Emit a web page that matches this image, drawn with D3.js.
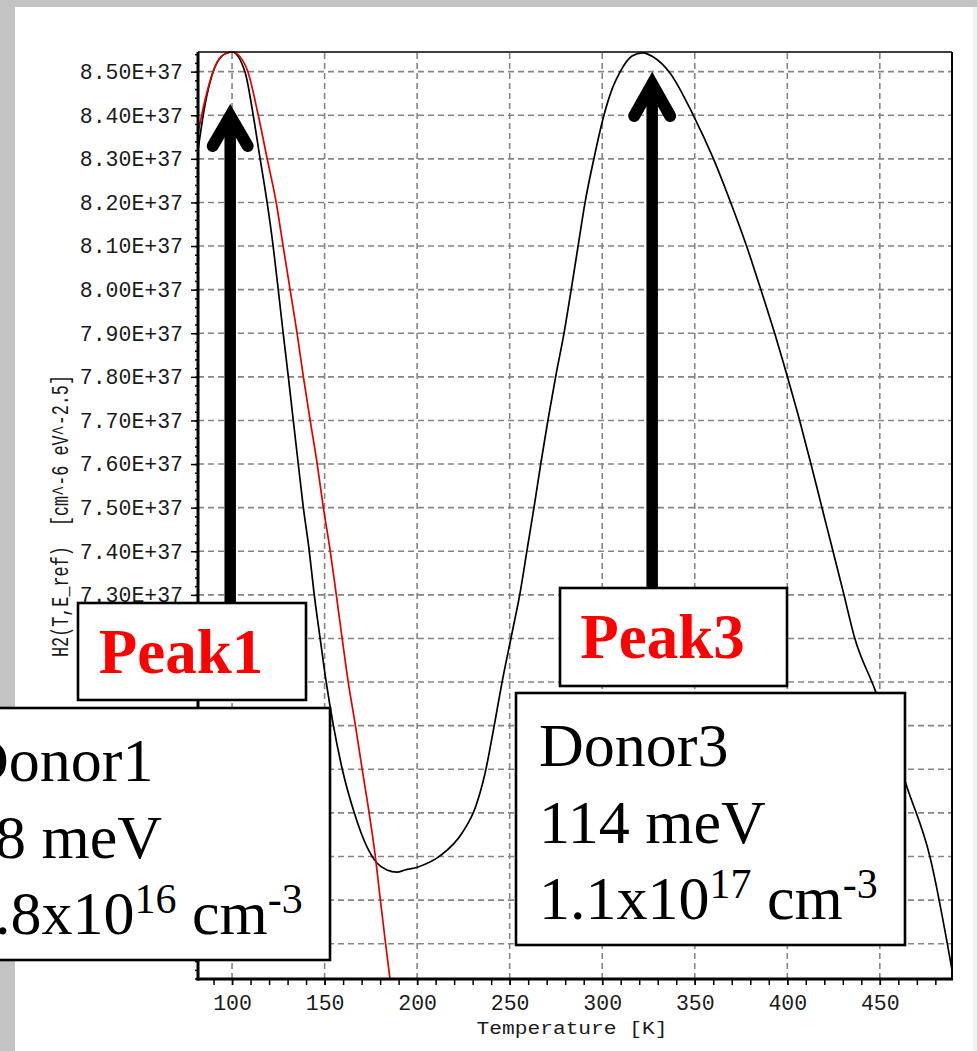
<!DOCTYPE html>
<html>
<head>
<meta charset="utf-8">
<script src="https://cdn.jsdelivr.net/npm/d3@7"></script>
<style>
  html, body { margin: 0; padding: 0; background: #fff; }
  svg { display: block; }
  text { white-space: pre; }
</style>
</head>
<body>
<svg id="chart" width="977" height="1051"></svg>
<script>
// Axis ranges: temperature in K, H2 function in cm^-6 eV^-2.5
const tempDomain = [81.6, 489.0];
const h2Domain = [6.419e37, 8.545e37];

const xTickValues = [100, 150, 200, 250, 300, 350, 400, 450];
const yTickValues = [6.5e37, 6.6e37, 6.7e37, 6.8e37, 6.9e37, 7.0e37, 7.1e37, 7.2e37, 7.3e37,
                     7.4e37, 7.5e37, 7.6e37, 7.7e37, 7.8e37, 7.9e37, 8.0e37, 8.1e37, 8.2e37,
                     8.3e37, 8.4e37, 8.5e37];
// labelled ticks (the lower ones sit behind the annotation boxes)
const yLabelledTicks = [7.3e37, 7.4e37, 7.5e37, 7.6e37, 7.7e37, 7.8e37, 7.9e37, 8.0e37, 8.1e37,
                        8.2e37, 8.3e37, 8.4e37, 8.5e37];

// Measured H2(T, E_ref) curve (black)
const measuredT = [81.6, 85.4, 89.2, 94.6, 100.0, 107.0, 111.4, 115.1, 118.9, 122.2, 124.9, 127.6,
  130.3, 133.0, 135.7, 138.4, 141.6, 144.3, 147.5, 150.8, 154.6, 159.4, 165.9, 172.9, 178.3, 183.7,
  189.1, 193.5, 200.5, 212.9, 224.3, 231.6, 236.7, 241.9, 245.9, 251.3, 255.6, 259.4, 263.2, 266.9,
  270.7, 275.0, 279.4, 283.2, 286.9, 290.7, 295.6, 301.0, 305.8, 309.6, 316.1, 322.0, 327.4, 336.6,
  349.1, 359.9, 369.3, 378.0, 385.8, 393.1, 399.8, 406.3, 412.5, 418.5, 424.4, 430.4, 436.3, 447.4,
  464.7, 477.1, 489.0];
const measuredH = [8.320, 8.424, 8.492, 8.536, 8.545, 8.499, 8.401, 8.302, 8.201, 8.100, 8.002, 7.901,
  7.804, 7.703, 7.603, 7.504, 7.405, 7.304, 7.203, 7.102, 7.004, 6.903, 6.802, 6.722, 6.685, 6.669,
  6.664, 6.669, 6.676, 6.703, 6.754, 6.814, 6.891, 7.006, 7.100, 7.213, 7.304, 7.403, 7.502, 7.603,
  7.701, 7.804, 7.901, 7.999, 8.098, 8.199, 8.302, 8.401, 8.465, 8.499, 8.536, 8.543, 8.534, 8.497,
  8.401, 8.302, 8.201, 8.100, 7.999, 7.901, 7.804, 7.706, 7.605, 7.504, 7.405, 7.304, 7.203, 7.082,
  6.859, 6.699, 6.440].map(v => v * 1e37);

// Fitted Donor1 contribution (red)
const donor1T = [81.6, 85.4, 89.7, 94.6, 100.0, 104.3, 108.6, 114.1, 118.9, 123.8, 127.6, 131.3,
  135.1, 138.4, 142.1, 145.9, 149.2, 152.9, 156.2, 159.4, 162.7, 166.5, 170.2, 174.0, 177.3, 180.0,
  182.7, 185.4, 186.4];
const donor1H = [8.359, 8.435, 8.499, 8.536, 8.545, 8.534, 8.499, 8.401, 8.302, 8.201, 8.100, 8.002,
  7.901, 7.804, 7.703, 7.603, 7.504, 7.405, 7.304, 7.203, 7.102, 7.004, 6.903, 6.802, 6.704, 6.605,
  6.509, 6.417, 6.383].map(v => v * 1e37);

// Peak annotations: peak temperature the arrow points at, label, donor parameters
const peakLabels = ["Peak1", "Peak3"];
const peakArrowT = [99.0, 327.0];
const donorNames = ["Donor1", "Donor3"];
const donorEnergies = ["58 meV", "114 meV"];
const donorMantissa = ["3.8x10", "1.1x10"];
const donorExponent = ["16", "17"];

const svg = d3.select("#chart");
const W = 977, H = 1051;
const plot = { left: 198, right: 952, top: 52, bottom: 979 };

svg.append("rect").attr("width", W).attr("height", H).attr("fill", "#fff");
// window frame
svg.append("rect").attr("x", 0).attr("y", 0).attr("width", W).attr("height", 7).attr("fill", "#c3c3c3");
svg.append("rect").attr("x", 0).attr("y", 0).attr("width", 15).attr("height", H).attr("fill", "#c3c3c3");
svg.append("rect").attr("x", 973).attr("y", 7).attr("width", 4).attr("height", H).attr("fill", "#f2f2f2");

const x = d3.scaleLinear().domain(tempDomain).range([plot.left, plot.right]);
const y = d3.scaleLinear().domain(h2Domain).range([plot.bottom, plot.top]);

const monoFont = "'Liberation Mono', 'DejaVu Sans Mono', monospace";

// dashed grid
const grid = svg.append("g").attr("stroke", "#858585").attr("stroke-width", 1.6)
  .attr("stroke-dasharray", "6,4");
grid.selectAll("line.v").data(xTickValues).join("line")
  .attr("x1", d => x(d)).attr("x2", d => x(d))
  .attr("y1", plot.bottom).attr("y2", plot.top);
grid.selectAll("line.h").data(yTickValues).join("line")
  .attr("y1", d => y(d)).attr("y2", d => y(d))
  .attr("x1", plot.left).attr("x2", plot.right);

// curves
svg.append("clipPath").attr("id", "plotClip").append("rect")
  .attr("x", plot.left).attr("y", plot.top - 1)
  .attr("width", plot.right - plot.left).attr("height", plot.bottom - plot.top + 1);

const line = d3.line().x(d => x(d[0])).y(d => y(d[1])).curve(d3.curveMonotoneX);
const curves = svg.append("g").attr("clip-path", "url(#plotClip)").attr("fill", "none");
curves.append("path").datum(d3.zip(measuredT, measuredH))
  .attr("d", line).attr("stroke", "#000").attr("stroke-width", 1.7);
curves.append("path").datum(d3.zip(donor1T, donor1H))
  .attr("d", line).attr("stroke", "#e00000").attr("stroke-width", 1.7);

// axes
const fmt = d => yLabelledTicks.includes(d) ? (d / 1e37).toFixed(2) + "E+37" : "";
const xAxis = svg.append("g").attr("transform", `translate(0,${plot.bottom})`)
  .call(d3.axisBottom(x).tickValues(xTickValues).tickSize(6).tickPadding(10));
const xMinor = svg.append("g").attr("transform", `translate(0,${plot.bottom})`)
  .call(d3.axisBottom(x).tickValues(d3.range(90, 489, 10)).tickSize(6).tickFormat(""));
const yAxis = svg.append("g").attr("transform", `translate(${plot.left},0)`)
  .call(d3.axisLeft(y).tickValues(yTickValues).tickSize(7).tickPadding(8).tickFormat(fmt));
const yMinor = svg.append("g").attr("transform", `translate(${plot.left},0)`)
  .call(d3.axisLeft(y).tickValues(d3.range(6.42e37, 8.545e37, 0.02e37)).tickSize(3).tickFormat(""));

[xAxis, xMinor, yAxis, yMinor].forEach(g => {
  g.select(".domain").remove();
  g.selectAll(".tick line").attr("stroke", "#000").attr("stroke-width", 1.5);
  g.selectAll("text").attr("font-family", monoFont).attr("font-size", 21.5).attr("fill", "#1a1a1a");
});
yAxis.selectAll(".tick text").filter(function () { return this.textContent === ""; }).remove();

// frame: heavy left/bottom, light top/right
svg.append("line").attr("x1", plot.left).attr("x2", plot.right).attr("y1", plot.top).attr("y2", plot.top)
  .attr("stroke", "#000").attr("stroke-width", 1.6);
svg.append("line").attr("x1", plot.right).attr("x2", plot.right).attr("y1", plot.top).attr("y2", plot.bottom)
  .attr("stroke", "#000").attr("stroke-width", 2);
svg.append("line").attr("x1", plot.left).attr("x2", plot.left).attr("y1", plot.top).attr("y2", plot.bottom + 1.5)
  .attr("stroke", "#000").attr("stroke-width", 3);
svg.append("line").attr("x1", plot.left - 1.5).attr("x2", plot.right + 1).attr("y1", plot.bottom).attr("y2", plot.bottom)
  .attr("stroke", "#000").attr("stroke-width", 3.2);

// axis titles
svg.append("text").attr("x", 572).attr("y", 1034).attr("text-anchor", "middle")
  .attr("font-family", monoFont).attr("font-size", 19).attr("fill", "#1a1a1a")
  .attr("textLength", 191).attr("lengthAdjust", "spacingAndGlyphs")
  .text("Temperature [K]");
svg.append("text").attr("transform", "translate(68,516) rotate(-90)").attr("text-anchor", "middle")
  .attr("font-family", monoFont).attr("font-size", 24).attr("fill", "#1a1a1a")
  .attr("textLength", 282).attr("lengthAdjust", "spacingAndGlyphs")
  .text("H2(T,E_ref)  [cm^-6 eV^-2.5]");

// arrows pointing at the peaks
const peakBoxes = [
  { x: 78, y: 603, w: 228, h: 97, tipY: 116, wingY: 146, half: 17.5 },
  { x: 560, y: 588, w: 227, h: 98, tipY: 84, wingY: 116, half: 18 }
];
peakBoxes.forEach((b, i) => {
  const ax = x(peakArrowT[i]);
  svg.append("line").attr("x1", ax).attr("x2", ax).attr("y1", b.y).attr("y2", b.tipY + 4)
    .attr("stroke", "#000").attr("stroke-width", 11.5);
  svg.append("path")
    .attr("d", `M${ax - b.half},${b.wingY} L${ax},${b.tipY} L${ax + b.half},${b.wingY}`)
    .attr("fill", "none").attr("stroke", "#000").attr("stroke-width", 12)
    .attr("stroke-linecap", "round").attr("stroke-linejoin", "miter").attr("stroke-miterlimit", 10);
});

// peak label boxes
peakBoxes.forEach((b, i) => {
  svg.append("rect").attr("x", b.x).attr("y", b.y).attr("width", b.w).attr("height", b.h)
    .attr("fill", "#fff").attr("stroke", "#000").attr("stroke-width", 2.6);
  svg.append("text").attr("x", b.x + b.w / 2 - 11).attr("y", b.y + 70).attr("text-anchor", "middle")
    .attr("font-family", "'Liberation Serif', 'Times New Roman', serif").attr("font-weight", "bold")
    .attr("font-size", 63).attr("fill", "#f00").text(peakLabels[i]);
});

// donor parameter boxes
const donorBoxes = [
  { x: -59, y: 708, w: 389, h: 252 },
  { x: 516, y: 693, w: 389, h: 252 }
];
donorBoxes.forEach((b, i) => {
  svg.append("rect").attr("x", b.x).attr("y", b.y).attr("width", b.w).attr("height", b.h)
    .attr("fill", "#fff").attr("stroke", "#000").attr("stroke-width", 2.6);
  const g = svg.append("g").attr("font-family", "'Liberation Serif', 'Times New Roman', serif")
    .attr("font-size", 62).attr("fill", "#000");
  const tx = b.x + 23;
  g.append("text").attr("x", tx).attr("y", b.y + 73).text(donorNames[i]);
  g.append("text").attr("x", tx).attr("y", b.y + 150).text(donorEnergies[i]);
  const t3 = g.append("text").attr("x", tx).attr("y", b.y + 226);
  t3.append("tspan").text(donorMantissa[i]);
  t3.append("tspan").attr("font-size", 42).attr("dy", -21).text(donorExponent[i]);
  t3.append("tspan").attr("dy", 21).text(" cm");
  t3.append("tspan").attr("font-size", 42).attr("dy", -21).text("-3");
});
</script>
</body>
</html>
